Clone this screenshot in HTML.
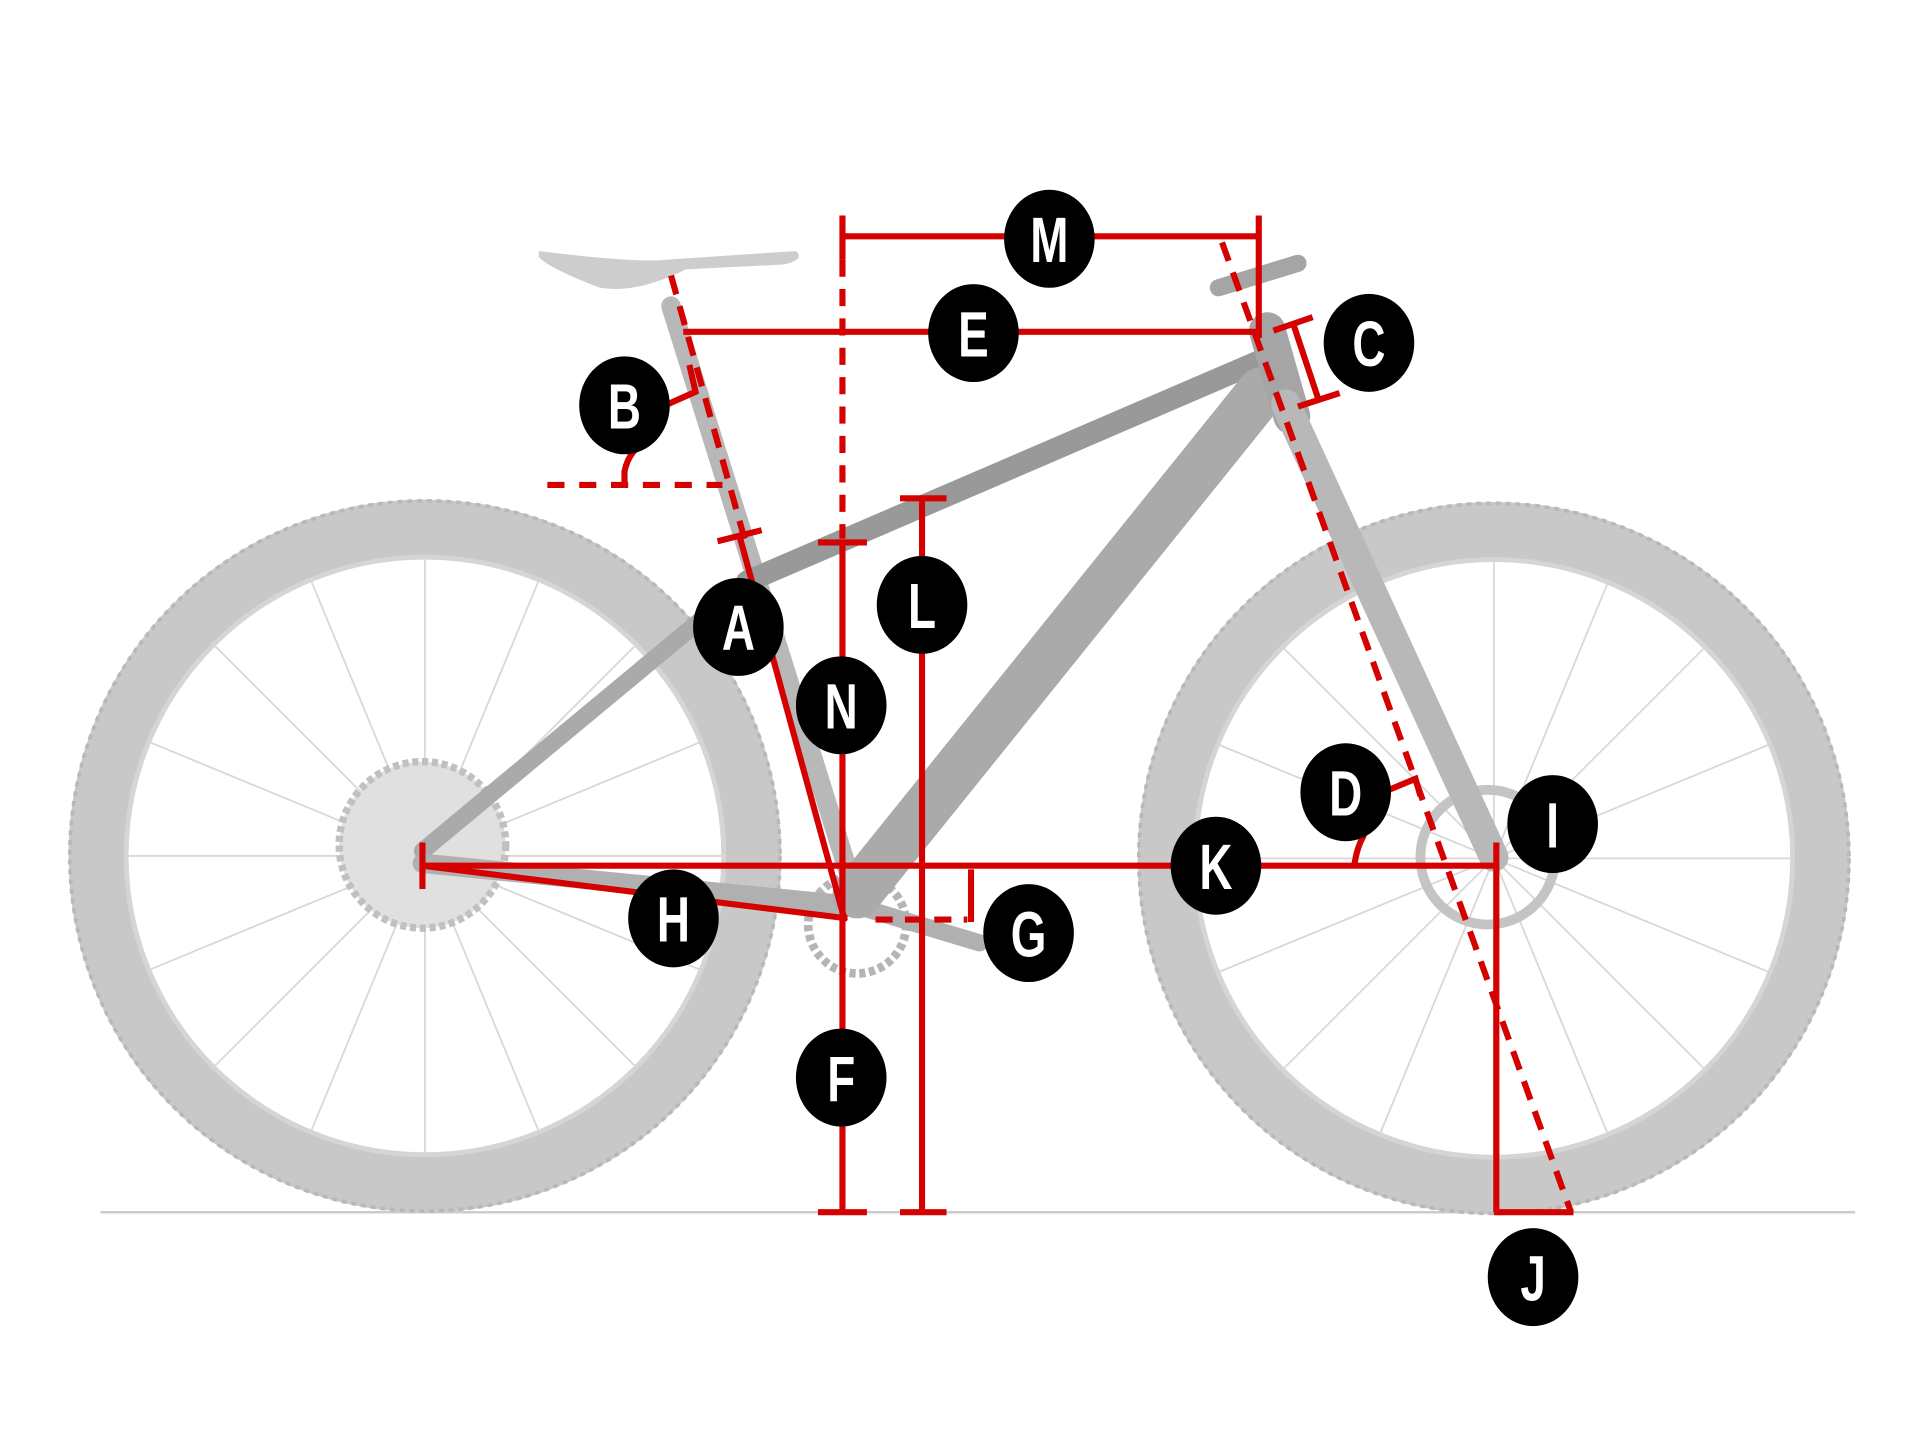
<!DOCTYPE html>
<html><head><meta charset="utf-8"><style>
html,body{margin:0;padding:0;background:#fff;}
svg{display:block;}
.c{font-family:"Liberation Sans",sans-serif;font-weight:bold;font-size:52px;fill:#fff;text-anchor:middle;}
</style></head><body>
<svg width="1920" height="1440" viewBox="0 0 1568 1176" xmlns="http://www.w3.org/2000/svg">
<line x1="82" y1="990" x2="1515" y2="990" stroke="#ccc" stroke-width="2"/>
<g fill="none" stroke="#c8c8c8">
<circle cx="347" cy="699" r="268" stroke-width="46"/>
<circle cx="1220" cy="701" r="268" stroke-width="46"/>
<circle cx="347" cy="699" r="290" stroke="#b8b8b8" stroke-width="3" stroke-dasharray="4 4"/>
<circle cx="1220" cy="701" r="290" stroke="#b8b8b8" stroke-width="3" stroke-dasharray="4 4"/>
<circle cx="347" cy="699" r="244" stroke="#d5d5d5" stroke-width="4"/>
<circle cx="1220" cy="701" r="244" stroke="#d5d5d5" stroke-width="4"/>
</g>
<g stroke="#d8d8d8" stroke-width="1.5">
<line x1="347" y1="455" x2="347" y2="943"/><line x1="103" y1="699" x2="591" y2="699"/>
<line x1="175" y1="527" x2="519" y2="871"/><line x1="175" y1="871" x2="519" y2="527"/>
<line x1="254" y1="474" x2="440" y2="924"/><line x1="440" y1="474" x2="254" y2="924"/>
<line x1="122" y1="606" x2="572" y2="792"/><line x1="122" y1="792" x2="572" y2="606"/>
<line x1="1220" y1="457" x2="1220" y2="945"/><line x1="976" y1="701" x2="1464" y2="701"/>
<line x1="1048" y1="529" x2="1392" y2="873"/><line x1="1048" y1="873" x2="1392" y2="529"/>
<line x1="1127" y1="476" x2="1313" y2="926"/><line x1="1313" y1="476" x2="1127" y2="926"/>
<line x1="995" y1="608" x2="1445" y2="794"/><line x1="995" y1="794" x2="1445" y2="608"/>
</g>
<circle cx="345" cy="690" r="68" fill="#e0e0e0" stroke="#c0c0c0" stroke-width="6" stroke-dasharray="5 3"/>
<circle cx="1215" cy="700" r="55" fill="none" stroke="#c4c4c4" stroke-width="8"/>
<circle cx="700" cy="755" r="40" fill="none" stroke="#b5b5b5" stroke-width="7" stroke-dasharray="5 3"/>
<g stroke-linecap="round" fill="none">
<line x1="345" y1="695" x2="610" y2="475" stroke="#aaa" stroke-width="14"/>
<line x1="345" y1="705" x2="700" y2="740" stroke="#b0b0b0" stroke-width="16"/>
<line x1="700" y1="740" x2="800" y2="770" stroke="#b0b0b0" stroke-width="14"/>
<line x1="548" y1="250" x2="700" y2="735" stroke="#b8b8b8" stroke-width="16"/>
<line x1="610" y1="475" x2="1040" y2="290" stroke="#999" stroke-width="18"/>
<line x1="700" y1="730" x2="1030" y2="320" stroke="#aaa" stroke-width="40"/>
<line x1="1035" y1="270" x2="1055" y2="340" stroke="#a5a5a5" stroke-width="30"/>
<line x1="1050" y1="330" x2="1220" y2="700" stroke="#b8b8b8" stroke-width="24"/>
<line x1="995" y1="235" x2="1060" y2="215" stroke="#a5a5a5" stroke-width="14"/>
</g>
<path d="M440 205 Q520 215 545 212 L650 205 Q658 212 640 216 L560 220 Q520 240 490 235 Q450 220 440 210 Z" fill="#cdcdcd"/>
<g stroke="#d50000" stroke-width="5" fill="none">
<line x1="688" y1="193" x2="1028" y2="193"/>
<line x1="688" y1="176" x2="688" y2="212"/>
<line x1="1028" y1="176" x2="1028" y2="276"/>
<line x1="688" y1="212" x2="688" y2="440" stroke-dasharray="14 10"/>
<line x1="558" y1="271" x2="1028" y2="271"/>
<line x1="998" y1="198" x2="1283" y2="990" stroke-dasharray="16 10"/>
<line x1="548" y1="225" x2="608" y2="440" stroke-dasharray="16 10"/>
<polyline points="532,336 568,320 563,298"/>
<line x1="447" y1="396" x2="590" y2="396" stroke-dasharray="14 12"/>
<path d="M510 396 L510 385 Q512 375 518 368"/>
<line x1="586" y1="442" x2="622" y2="433"/>
<line x1="604" y1="438" x2="690" y2="752"/>
<line x1="688" y1="443" x2="688" y2="990"/>
<line x1="668" y1="443" x2="708" y2="443"/>
<line x1="668" y1="990" x2="708" y2="990"/>
<line x1="753" y1="407" x2="753" y2="990"/>
<line x1="735" y1="407" x2="773" y2="407"/>
<line x1="735" y1="990" x2="773" y2="990"/>
<line x1="345" y1="707" x2="1222" y2="707"/>
<line x1="345" y1="688" x2="345" y2="726"/>
<line x1="345" y1="707" x2="692" y2="750"/>
<line x1="715" y1="751" x2="790" y2="751" stroke-dasharray="14 10"/>
<line x1="793" y1="710" x2="793" y2="753"/>
<line x1="1222" y1="688" x2="1222" y2="990"/>
<line x1="1220" y1="990" x2="1285" y2="990"/>
<path d="M1106 707 Q1108 692 1114 682"/>
<polyline points="1132,646 1156,636 1160,650"/>
<line x1="1040" y1="270" x2="1072" y2="259"/>
<line x1="1060" y1="332" x2="1094" y2="321"/>
<line x1="1056" y1="264" x2="1077" y2="327"/>
</g>
<g>
<ellipse cx="857" cy="195" rx="37" ry="40"/><text class="c" transform="translate(857,214) scale(0.72,1)">M</text>
<ellipse cx="795" cy="272" rx="37" ry="40"/><text class="c" transform="translate(795,291) scale(0.72,1)">E</text>
<ellipse cx="1118" cy="280" rx="37" ry="40"/><text class="c" transform="translate(1118,299) scale(0.72,1)">C</text>
<ellipse cx="510" cy="331" rx="37" ry="40"/><text class="c" transform="translate(510,350) scale(0.72,1)">B</text>
<ellipse cx="603" cy="512" rx="37" ry="40"/><text class="c" transform="translate(603,531) scale(0.72,1)">A</text>
<ellipse cx="753" cy="494" rx="37" ry="40"/><text class="c" transform="translate(753,513) scale(0.72,1)">L</text>
<ellipse cx="687" cy="576" rx="37" ry="40"/><text class="c" transform="translate(687,595) scale(0.72,1)">N</text>
<ellipse cx="1099" cy="647" rx="37" ry="40"/><text class="c" transform="translate(1099,666) scale(0.72,1)">D</text>
<ellipse cx="1268" cy="673" rx="37" ry="40"/><text class="c" transform="translate(1268,692) scale(0.72,1)">I</text>
<ellipse cx="993" cy="707" rx="37" ry="40"/><text class="c" transform="translate(993,726) scale(0.72,1)">K</text>
<ellipse cx="550" cy="750" rx="37" ry="40"/><text class="c" transform="translate(550,769) scale(0.72,1)">H</text>
<ellipse cx="840" cy="762" rx="37" ry="40"/><text class="c" transform="translate(840,781) scale(0.72,1)">G</text>
<ellipse cx="687" cy="880" rx="37" ry="40"/><text class="c" transform="translate(687,899) scale(0.72,1)">F</text>
<ellipse cx="1252" cy="1043" rx="37" ry="40"/><text class="c" transform="translate(1252,1062) scale(0.72,1)">J</text>
</g>
</svg>
</body></html>
